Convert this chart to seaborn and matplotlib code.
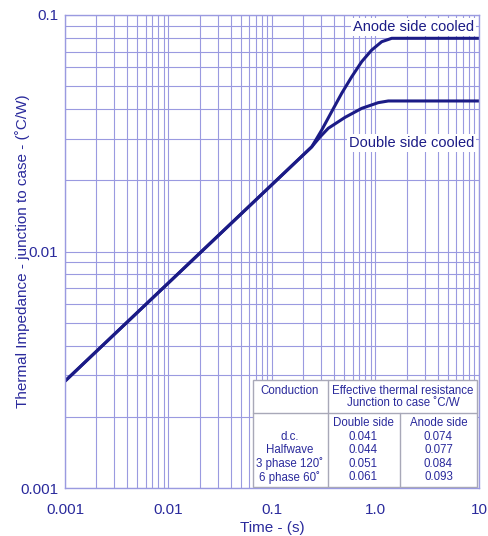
import numpy as np
import pandas as pd
import matplotlib
matplotlib.use("Agg")
import matplotlib.pyplot as plt
import seaborn as sns
from matplotlib.ticker import FixedLocator, FixedFormatter, NullFormatter, LogLocator

# ---- data ----
anode_t = [0.001, 0.242, 0.302, 0.377, 0.472, 0.589, 0.736, 0.919, 1.148, 1.434, 10.0]
anode_z = [0.00283, 0.0277, 0.0326, 0.0390, 0.0467, 0.0548, 0.0635, 0.0711, 0.0771, 0.0797, 0.0797]
double_t = [0.001, 0.242, 0.291, 0.350, 0.507, 0.736, 1.064, 1.329, 10.0]
double_z = [0.00283, 0.0277, 0.0305, 0.0332, 0.0369, 0.0403, 0.0426, 0.0433, 0.0433]

x_ticks = [0.001, 0.01, 0.1, 1.0, 10.0]
x_ticklabels = ["0.001", "0.01", "0.1", "1.0", "10"]
y_ticks = [0.001, 0.01, 0.1]
y_ticklabels = ["0.001", "0.01", "0.1"]

conduction = ["d.c.", "Halfwave", "3 phase 120˚", "6 phase 60˚"]
double_side = ["0.041", "0.044", "0.051", "0.061"]
anode_side = ["0.074", "0.077", "0.084", "0.093"]

df = pd.concat([
    pd.DataFrame({"t": anode_t, "z": anode_z, "series": "Anode side cooled"}),
    pd.DataFrame({"t": double_t, "z": double_z, "series": "Double side cooled"}),
], ignore_index=True)

# ---- style ----
sns.set_theme(style="white")
plt.rcParams["font.family"] = ["Liberation Sans", "DejaVu Sans"]
TXT = "#2a2a9c"
LINE = "#1b1b86"
GRID = "#9a9ae0"

fig = plt.figure(figsize=(4.89, 5.36), dpi=100)
ax = fig.add_axes([65/489, 1-488/536, 414/489, 473/536])

sns.lineplot(data=df, x="t", y="z", hue="series", palette=[LINE, LINE],
             sort=False, estimator=None, legend=False, linewidth=2.2, ax=ax)
for ln in ax.lines:
    ln.set_solid_joinstyle("round")
    ln.set_solid_capstyle("round")

ax.set_xscale("log")
ax.set_yscale("log")
ax.set_xlim(0.001, 10)
ax.set_ylim(0.001, 0.1)

ax.xaxis.set_major_locator(FixedLocator(x_ticks))
ax.xaxis.set_major_formatter(FixedFormatter(x_ticklabels))
ax.yaxis.set_major_locator(FixedLocator(y_ticks))
ax.yaxis.set_major_formatter(FixedFormatter(y_ticklabels))
ax.xaxis.set_minor_locator(LogLocator(base=10, subs=np.arange(2, 10)))
ax.yaxis.set_minor_locator(LogLocator(base=10, subs=np.arange(2, 10)))
ax.xaxis.set_minor_formatter(NullFormatter())
ax.yaxis.set_minor_formatter(NullFormatter())

ax.grid(True, which="both", color=GRID, linewidth=0.8)
ax.set_axisbelow(True)
for s in ax.spines.values():
    s.set_color(GRID)
    s.set_linewidth(1.0)
ax.tick_params(axis="both", which="major", direction="out", length=4, width=0.8,
               color=GRID, labelcolor=TXT, labelsize=11)
ax.tick_params(axis="x", which="major", pad=6.5)
ax.tick_params(axis="y", which="major", pad=1)
ax.tick_params(axis="both", which="minor", length=0)

ax.set_xlabel("Time - (s)", color=TXT, fontsize=11, labelpad=3.5)
ax.set_ylabel("Thermal Impedance - junction to case - (˚C/W)", color=TXT, fontsize=11)
ax.yaxis.label.set_verticalalignment("center")
ax.yaxis.set_label_coords((23 - 65) / 414, 0.5)

bbox = dict(facecolor="white", edgecolor="none", pad=1.5)
ax.text(0.988, 0.975, "Anode side cooled", transform=ax.transAxes, ha="right", va="center",
        color=LINE, fontsize=10.5, bbox=bbox, zorder=5)
ax.text(0.988, 0.729, "Double side cooled", transform=ax.transAxes, ha="right", va="center",
        color=LINE, fontsize=10.5, bbox=bbox, zorder=5)

# ---- table ----
def fx(px):
    return (px - 65) / 414
def fy(py):
    return (488 - py) / 473

x0, x1, x2, x3 = fx(252.7), fx(328.3), fx(400), fx(477.5)
y0, y1, y2 = fy(380), fy(412.7), fy(487.3)
BORDER = "#a8a8b8"
ax.add_patch(plt.Rectangle((x0, y2), x3 - x0, y0 - y2, transform=ax.transAxes,
                           facecolor="white", edgecolor=BORDER, linewidth=1.0, zorder=6))
ax.plot([x0, x3], [y1, y1], transform=ax.transAxes, color=BORDER, lw=1.0, zorder=7)
ax.plot([x1, x1], [y0, y2], transform=ax.transAxes, color=BORDER, lw=1.0, zorder=7)
ax.plot([x2, x2], [y1, y2], transform=ax.transAxes, color=BORDER, lw=1.0, zorder=7)

TFS = 8.3
c1 = fx(290)
c2 = fx(363.5)
c3 = fx(438.5)
ax.text(c1, fy(390.5), "Conduction", transform=ax.transAxes, ha="center", va="center",
        color=TXT, fontsize=TFS, zorder=8)
ax.text((x1 + x3) / 2, fy(390.5), "Effective thermal resistance", transform=ax.transAxes,
        ha="center", va="center", color=TXT, fontsize=TFS, zorder=8)
ax.text((x1 + x3) / 2, fy(403.5), "Junction to case ˚C/W", transform=ax.transAxes,
        ha="center", va="center", color=TXT, fontsize=TFS, zorder=8)
ax.text(c2, fy(423.3), "Double side", transform=ax.transAxes, ha="center", va="center",
        color=TXT, fontsize=TFS, zorder=8)
ax.text(c3, fy(423.3), "Anode side", transform=ax.transAxes, ha="center", va="center",
        color=TXT, fontsize=TFS, zorder=8)
rows_y = [436.7, 450.2, 463.8, 477.3]
for i, ry in enumerate(rows_y):
    ax.text(c1, fy(ry), conduction[i], transform=ax.transAxes, ha="center", va="center",
            color=TXT, fontsize=TFS, zorder=8)
    ax.text(c2, fy(ry), double_side[i], transform=ax.transAxes, ha="center", va="center",
            color=TXT, fontsize=TFS, zorder=8)
    ax.text(c3, fy(ry), anode_side[i], transform=ax.transAxes, ha="center", va="center",
            color=TXT, fontsize=TFS, zorder=8)

fig.savefig("out.png", dpi=100)
